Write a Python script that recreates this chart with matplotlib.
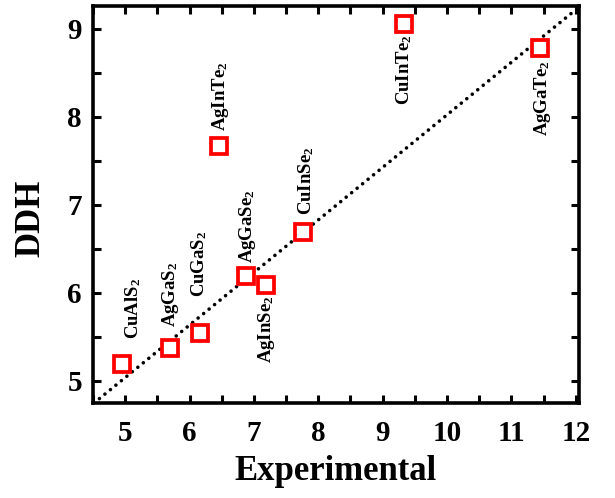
import matplotlib
matplotlib.use("Agg")
import matplotlib.pyplot as plt

plt.rcParams['font.family'] = ['Liberation Serif', 'DejaVu Serif']
plt.rcParams['font.weight'] = 'bold'
plt.rcParams['mathtext.fontset'] = 'custom'
plt.rcParams['mathtext.rm'] = 'Liberation Serif:bold'
plt.rcParams['mathtext.bf'] = 'Liberation Serif:bold'
plt.rcParams['mathtext.default'] = 'bf'

# Compounds, experimental values and DDH values
compounds = ['CuAlS$_2$', 'AgGaS$_2$', 'CuGaS$_2$', 'AgGaSe$_2$', 'AgInSe$_2$',
             'CuInSe$_2$', 'AgInTe$_2$', 'CuInTe$_2$', 'AgGaTe$_2$']
experimental = [4.95, 5.70, 6.16, 6.87, 7.19, 7.76, 6.45, 9.33, 11.45]
ddh = [5.19, 5.37, 5.54, 6.19, 6.09, 6.69, 7.67, 9.05, 8.78]

# Label anchor points (x centre, y bottom) in data units
label_x = [5.13, 5.70, 6.15, 6.90, 7.20, 7.81, 6.48, 9.33, 11.48]
label_y = [5.48, 5.61, 5.95, 6.34, 5.20, 6.89, 7.84, 8.13, 7.78]

# Dotted trend line end points
trend_x = [4.60, 11.97]
trend_y = [4.80, 9.20]

fig = plt.figure(figsize=(6.15, 4.98), dpi=100)
ax = fig.add_axes([93 / 615, 1 - 403 / 498, (579 - 93) / 615, (403 - 6) / 498])

ax.plot(trend_x, trend_y, color='black', linewidth=2.6,
        linestyle=(0, (0.01, 1.95)), dash_capstyle='round')

ax.plot(experimental, ddh, linestyle='none', marker='s', markersize=11,
        markerfacecolor='white', markeredgecolor='#ff0000', markeredgewidth=2.7)

for name, lx, ly in zip(compounds, label_x, label_y):
    ax.text(lx, ly, name, rotation=90, ha='center', va='bottom',
            fontsize=13.5, fontweight='bold')

ax.set_xticks(range(5, 13))
ax.set_yticks(range(5, 10))
ax.set_xticks([x + 0.5 for x in range(4, 12)], minor=True)
ax.set_yticks([y + 0.5 for y in range(4, 9)], minor=True)
ax.set_xlim(4.5, 12.05)
ax.set_ylim(4.75, 9.26)

for s in ax.spines.values():
    s.set_linewidth(2.6)
ax.tick_params(which='both', direction='in', top=True, right=True,
               length=6, width=2.2)
ax.tick_params(axis='x', which='major', labelsize=21, pad=12)
ax.tick_params(axis='y', which='major', labelsize=21, pad=8)
for lab in ax.get_xticklabels() + ax.get_yticklabels():
    lab.set_fontweight('bold')

ax.set_xlabel('Experimental', fontsize=25, fontweight='bold', labelpad=6)
ax.set_ylabel('DDH', fontsize=25, fontweight='bold')
ax.yaxis.set_label_coords(-0.093, 0.466)

fig.savefig('out.png', dpi=100)
